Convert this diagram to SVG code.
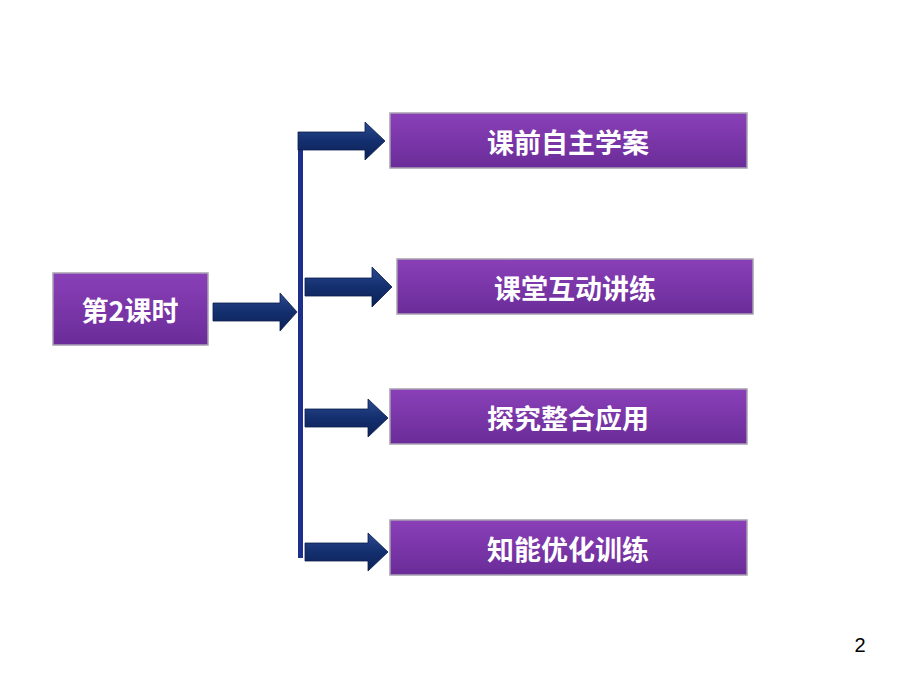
<svg xmlns="http://www.w3.org/2000/svg" width="920" height="690" viewBox="0 0 920 690">
<defs>
<linearGradient id="ag" x1="0" y1="0" x2="0" y2="1"><stop offset="0" stop-color="#2a4a90"/><stop offset="0.5" stop-color="#142f6e"/><stop offset="1" stop-color="#0c2258"/></linearGradient>
<linearGradient id="bg" x1="0" y1="0" x2="0" y2="1"><stop offset="0" stop-color="#8a40b8"/><stop offset="1" stop-color="#6a2c98"/></linearGradient>
<style>
.box{fill:url(#bg);stroke:#a8a0b0;stroke-width:1.5}
.t{font-family:"Noto Sans CJK SC","Liberation Sans",sans-serif;font-weight:bold;font-size:27px;fill:#fff;text-anchor:middle;dominant-baseline:central}
.ar{fill:url(#ag);stroke:#0a1c4a;stroke-width:0.8}
</style>
</defs>
<rect width="920" height="690" fill="#fff"/>
<g id="connectors">
<rect x="298" y="132" width="5" height="426" fill="#1c2f8a"/>
<path class="ar" d="M298 132H365V122L385 141L365 160V150H298Z"/>
<path class="ar" d="M213 303H280V293L297 312L280 331V321H213Z"/>
<path class="ar" d="M305 278H372V267L392 287L372 307V296H305Z"/>
<path class="ar" d="M305 409H368V399L388 418L368 437V427H305Z"/>
<path class="ar" d="M305 543H368V533L388 552L368 571V561H305Z"/>
</g>
<g id="n0"><rect class="box" x="53" y="273" width="155" height="72"/><text class="t" x="130" y="309">第2课时</text></g>
<g id="n1"><rect class="box" x="390" y="113" width="357" height="55"/><text class="t" x="568" y="141">课前自主学案</text></g>
<g id="n2"><rect class="box" x="397" y="259" width="356" height="55"/><text class="t" x="575" y="287">课堂互动讲练</text></g>
<g id="n3"><rect class="box" x="390" y="389" width="357" height="55"/><text class="t" x="568" y="417">探究整合应用</text></g>
<g id="n4"><rect class="box" x="390" y="520" width="357" height="55"/><text class="t" x="568" y="548">知能优化训练</text></g>
<text x="860" y="652" font-family="Liberation Sans,sans-serif" font-size="20" fill="#000" text-anchor="middle">2</text>
</svg>
